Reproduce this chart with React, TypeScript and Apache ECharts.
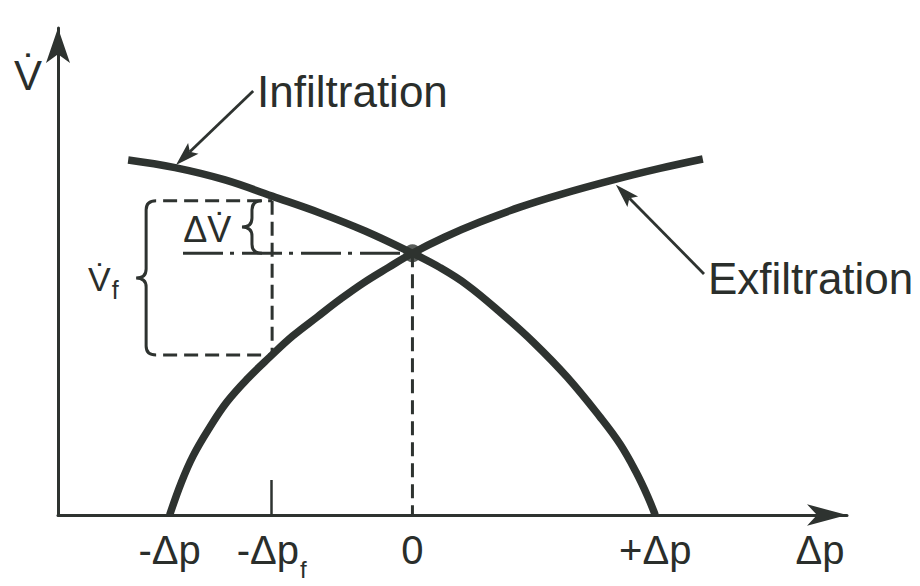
import React, { useEffect, useRef } from 'react';
import * as echarts from 'echarts';

// ---- data (abstract units: Δp normalised so that ±Δp = ±1, V̇ so that the crossing = 1) ----
const infiltrationX = [-1.171, -0.978, -0.772, -0.578, -0.381, -0.195, 0, 0.114, 0.225, 0.361, 0.497, 0.637, 0.773, 0.855, 0.921, 0.97, 1.0];
const infiltrationY = [1.356, 1.327, 1.28, 1.218, 1.154, 1.085, 1.0, 0.945, 0.879, 0.775, 0.661, 0.527, 0.374, 0.271, 0.164, 0.069, 0];

const exfiltrationX = [-1.0, -0.953, -0.904, -0.834, -0.764, -0.677, -0.587, -0.493, -0.393, -0.299, -0.203, -0.1, 0, 0.134, 0.278, 0.443, 0.608, 0.835, 1.019, 1.196];
const exfiltrationY = [0, 0.122, 0.225, 0.336, 0.432, 0.523, 0.604, 0.684, 0.756, 0.823, 0.886, 0.945, 1.0, 1.062, 1.119, 1.176, 1.224, 1.282, 1.324, 1.36];

const crossingX = [0];
const crossingY = [1.0];

// x-axis tick labels
const tickValues = [-1, -0.58, 0, 1];
const tickLabels = ['-Δp', '{a|-Δp}{s|f}', '0', '+Δp'];
const tickMarkValues = [-0.58];

// guide lines
const zeroDropX = [0, 0];
const zeroDropY = [1.0, 0];
const flowDropX = [-0.578, -0.578];
const flowDropY = [1.2, 0.611];
const topGuideX = [-1.027, -0.578];
const topGuideY = [1.2, 1.2];
const bottomGuideX = [-1.027, -0.578];
const bottomGuideY = [0.611, 0.611];
const crossGuideX = [-0.945, 0];
const crossGuideY = [1.0, 1.0];

// braces (spine x, top y, bottom y)
const braceX = [-1.097, -0.661];
const braceTop = [1.2, 1.2];
const braceBottom = [0.611, 1.0];

// label arrows (from -> tip)
const arrowFromX = [-0.656, 1.201];
const arrowFromY = [1.62, 0.921];
const arrowToX = [-0.974, 0.838];
const arrowToY = [1.337, 1.262];

// annotation texts
const noteTexts = ['Infiltration', 'Exfiltration', 'ΔV\u0307', '{v|V\u0307}{s|f}'];
const noteX = [-0.64, 1.217, -0.944, -1.336];
const noteY = [1.616, 0.905, 1.089, 0.902];
const noteSizes = [44, 44, 36, 34];

const INK = '#2e3330';
const TEXT = '#2a2e2b';
const FONT = "'Liberation Sans', Arial, Helvetica, sans-serif";

const zip = (xs: number[], ys: number[]) => xs.map((x, i) => [x, ys[i]]);

export default function App() {
  const ref = useRef<HTMLDivElement>(null);

  useEffect(() => {
    if (!ref.current) return;
    const chart = echarts.init(ref.current, undefined, { renderer: 'svg' });

    const dashed = (name: string, xs: number[], ys: number[], type: any) => ({
      name,
      type: 'line',
      data: zip(xs, ys),
      symbol: 'none',
      silent: true,
      z: 3,
      lineStyle: { width: 3, color: INK, type, cap: 'butt' },
    });

    const option: any = {
      animation: false,
      backgroundColor: '#ffffff',
      grid: { left: 58, right: 73, top: 28.1, bottom: 71, outerBoundsMode: 'none' },
      xAxis: {
        type: 'value',
        min: -1.46,
        max: 1.79,
        name: 'Δp',
        nameLocation: 'end',
        nameGap: -27,
        nameTextStyle: {
          fontSize: 40,
          fontFamily: FONT,
          color: TEXT,
          align: 'center',
          verticalAlign: 'top',
          padding: [15, 0, 0, 0],
        },
        splitLine: { show: false },
        axisLine: {
          show: true,
          onZero: false,
          symbol: ['none', 'arrow'],
          symbolSize: [16, 40],
          lineStyle: { color: INK, width: 3 },
        },
        axisTick: {
          show: true,
          inside: true,
          length: 35,
          customValues: tickMarkValues,
          lineStyle: { color: INK, width: 2.5 },
        },
        axisLabel: {
          show: true,
          customValues: tickValues,
          margin: 15,
          fontSize: 40,
          lineHeight: 40,
          fontFamily: FONT,
          color: TEXT,
          formatter: (v: number) => {
            const i = tickValues.findIndex((t) => Math.abs(t - v) < 1e-6);
            return i >= 0 ? tickLabels[i] : '';
          },
          rich: {
            a: { fontSize: 40, lineHeight: 40, fontFamily: FONT, color: TEXT, verticalAlign: 'top' },
            s: { fontSize: 24, lineHeight: 24, fontFamily: FONT, color: TEXT, padding: [38, 0, 0, 1] },
          },
        },
      },
      yAxis: {
        type: 'value',
        min: 0,
        max: 1.86,
        name: 'V\u0307',
        nameLocation: 'end',
        nameGap: -47,
        nameTextStyle: {
          fontSize: 42,
          fontFamily: FONT,
          color: TEXT,
          align: 'right',
          verticalAlign: 'middle',
          padding: [0, 16, 0, 0],
        },
        splitLine: { show: false },
        axisTick: { show: false },
        axisLabel: { show: false },
        axisLine: {
          show: true,
          onZero: false,
          symbol: ['none', 'arrow'],
          symbolSize: [18, 35],
          lineStyle: { color: INK, width: 3 },
        },
      },
      series: [
        {
          name: 'Infiltration',
          type: 'line',
          data: zip(infiltrationX, infiltrationY),
          smooth: 0.4,
          symbol: 'none',
          silent: true,
          z: 5,
          lineStyle: { width: 7.5, color: INK, cap: 'butt' },
        },
        {
          name: 'Exfiltration',
          type: 'line',
          data: zip(exfiltrationX, exfiltrationY),
          smooth: 0.4,
          symbol: 'none',
          silent: true,
          z: 5,
          lineStyle: { width: 7.5, color: INK, cap: 'butt' },
        },
        dashed('zeroDrop', zeroDropX, zeroDropY, [14, 7]),
        dashed('flowDrop', flowDropX, flowDropY, [14, 7]),
        dashed('topGuide', topGuideX, topGuideY, [14, 7]),
        dashed('bottomGuide', bottomGuideX, bottomGuideY, [14, 7]),
        dashed('crossGuide', crossGuideX, crossGuideY, [40, 7, 4, 8]),
        {
          name: 'crossing',
          type: 'scatter',
          data: zip(crossingX, crossingY),
          symbolSize: 18,
          silent: true,
          z: 6,
          itemStyle: { color: INK },
        },
        {
          name: 'braces',
          type: 'custom',
          coordinateSystem: 'cartesian2d',
          data: braceX.map((x, i) => [x, braceTop[i], braceBottom[i]]),
          encode: { x: 0, y: [1, 2] },
          clip: false,
          silent: true,
          z: 4,
          renderItem: (params: any, api: any) => {
            const p0 = api.coord([api.value(0), api.value(1)]);
            const p1 = api.coord([api.value(0), api.value(2)]);
            const x = p0[0];
            const y0 = p0[1];
            const y1 = p1[1];
            const ym = (y0 + y1) / 2;
            const r = 10;
            const rv = Math.min(9, (y1 - y0) / 4);
            const d =
              `M${x + r},${y0} Q${x},${y0} ${x},${y0 + rv} L${x},${ym - rv} ` +
              `Q${x},${ym} ${x - r},${ym} Q${x},${ym} ${x},${ym + rv} ` +
              `L${x},${y1 - rv} Q${x},${y1} ${x + r},${y1}`;
            return {
              type: 'path',
              shape: { pathData: d },
              style: { fill: 'none', stroke: INK, lineWidth: 3 },
            };
          },
        },
        {
          name: 'arrows',
          type: 'custom',
          coordinateSystem: 'cartesian2d',
          data: arrowFromX.map((x, i) => [x, arrowFromY[i], arrowToX[i], arrowToY[i]]),
          encode: { x: [0, 2], y: [1, 3] },
          clip: false,
          silent: true,
          z: 4,
          renderItem: (params: any, api: any) => {
            const a = api.coord([api.value(0), api.value(1)]);
            const b = api.coord([api.value(2), api.value(3)]);
            const dx = b[0] - a[0];
            const dy = b[1] - a[1];
            const L = Math.hypot(dx, dy);
            const ux = dx / L;
            const uy = dy / L;
            const hl = 24;
            const hw = 7.5;
            const base = [b[0] - ux * hl, b[1] - uy * hl];
            const notch = [b[0] - ux * hl * 0.8, b[1] - uy * hl * 0.8];
            const left = [base[0] - uy * hw, base[1] + ux * hw];
            const right = [base[0] + uy * hw, base[1] - ux * hw];
            return {
              type: 'group',
              children: [
                {
                  type: 'line',
                  shape: { x1: a[0], y1: a[1], x2: notch[0], y2: notch[1] },
                  style: { stroke: INK, lineWidth: 2.8 },
                },
                {
                  type: 'polygon',
                  shape: { points: [b, left, notch, right] },
                  style: { fill: INK },
                },
              ],
            };
          },
        },
        {
          name: 'notes',
          type: 'custom',
          coordinateSystem: 'cartesian2d',
          data: zip(noteX, noteY),
          clip: false,
          silent: true,
          z: 7,
          renderItem: (params: any, api: any) => {
            const i = params.dataIndex;
            const p = api.coord([api.value(0), api.value(1)]);
            const fs = noteSizes[i];
            return {
              type: 'text',
              x: p[0],
              y: p[1],
              style: {
                text: noteTexts[i],
                fill: TEXT,
                fontSize: fs,
                fontFamily: FONT,
                align: 'left',
                verticalAlign: 'middle',
                rich: {
                  v: { fontSize: fs, lineHeight: fs, fontFamily: FONT, fill: TEXT, color: TEXT, verticalAlign: 'top' },
                  s: { fontSize: 25, lineHeight: 25, fontFamily: FONT, fill: TEXT, color: TEXT, padding: [22, 0, 0, 1] },
                },
              },
            };
          },
        },
      ],
    };

    chart.setOption(option);
    return () => chart.dispose();
  }, []);

  return (
    <div
      ref={ref}
      style={{ position: 'fixed', left: 0, top: 0, width: 920, height: 586, background: '#ffffff' }}
    />
  );
}
